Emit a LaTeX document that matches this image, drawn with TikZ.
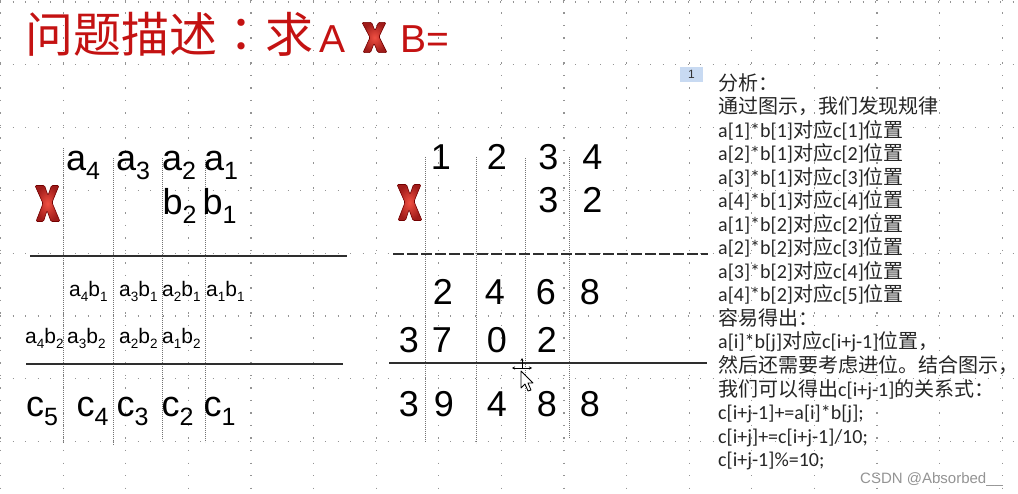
\documentclass[tikz,border=0pt]{standalone}
\usepackage{fontspec}
\setmainfont{Liberation Sans}
\newfontfamily\cjk{Noto Sans CJK SC}
\newfontfamily\cjktc{Noto Sans CJK TC}
\newfontfamily\carl{Carlito}
\usetikzlibrary{arrows.meta}
\newcommand\fs[1]{\fontsize{#1}{#1}\selectfont}
\newcommand\Bs[1]{\raisebox{-9pt}{\fs{25}#1}}
\newcommand\Ss[1]{\raisebox{-5pt}{\fs{13.5}#1}}
\newcommand\zh[1]{{\cjk #1}}
\definecolor{titlered}{RGB}{196,18,18}
\definecolor{boxblue}{RGB}{200,218,242}
\tikzset{
  griddot/.style={line width=1.3pt, black!42, dash pattern=on 1.3pt off 11.2pt},
  colline/.style={line width=1pt, black!55, dash pattern=on 1.2pt off 0.8pt},
  ruler/.style={line width=2pt, black!82},
  dashruler/.style={line width=2pt, black!82, dash pattern=on 11pt off 3pt},
  bigtxt/.style={font=\fs{36}, inner sep=0, anchor=base west},
  digit/.style={font=\fs{36}, inner sep=0, anchor=base},
  smalltxt/.style={font=\fs{21}, inner sep=0, anchor=base west},
  rt/.style={font=\fs{20}\carl, text=black!85, inner sep=0, anchor=base west},
  titlezh/.style={font=\fs{48}\cjk, text=titlered, inner sep=0, anchor=base west},
  titlelat/.style={font=\fs{39}, text=titlered, inner sep=0, anchor=base west},
  xicon/.pic={
    \path[draw=red!45!black, line width=0.6pt, inner color={rgb,255:red,240;green,80;blue,66},
      outer color={rgb,255:red,160;green,28;blue,26}, rounded corners=1.2pt]
      (-12.5,-18) -- (-3,-18) -- (0.5,-8) -- (4,-18) -- (11.5,-18) -- (4.5,-1)
      -- (12.5,18) -- (3.5,18) -- (-0.5,7) -- (-4,18) -- (-11.5,18) -- (-4.5,0) -- cycle;
  }
}
\begin{document}
\begin{tikzpicture}[x=1pt, y=-1pt]
\useasboundingbox (0,0) rectangle (1018,494);
\fill[white] (0,0) rectangle (1018,494);
% dotted grid
\foreach \k in {0,...,7} \draw[griddot] (0,{2+62.8*\k}) -- (1018,{2+62.8*\k});
\foreach \k in {0,...,16} \draw[griddot] ({0.6+62.6*\k},0) -- ({0.6+62.6*\k},494);

% title
\node[titlezh] (t1) at (25,53) {问题描述{\cjktc ：}求};
\node[titlelat] (tA) at (319,53) {A};
\pic[yscale=0.84] at (374.5,37.5) {xicon};
\node[titlelat] (tB) at (400,53) {B=};

% ---------- left diagram ----------
\foreach \x/\a/\b in {63/148/443, 113/158/445, 162/158/440, 205/160/442}
  \draw[colline] (\x,\a) -- (\x,\b);
\draw[ruler] (30,256) -- (347,256);
\draw[ruler] (26,364) -- (343,364);
\pic at (47.5,203.5) {xicon};
\node[bigtxt] (la4) at (66,171) {a\Bs4};
\node[bigtxt] (la3) at (116,171) {a\Bs3};
\node[bigtxt] (la2) at (162,171) {a\Bs2};
\node[bigtxt] (la1) at (204,171) {a\Bs1};
\node[bigtxt] (lb2) at (162.5,215) {b\Bs2};
\node[bigtxt] (lb1) at (202.5,215) {b\Bs1};
\node[smalltxt] (p41) at (69,297) {a\Ss4b\Ss1};
\node[smalltxt] (p31) at (119,297) {a\Ss3b\Ss1};
\node[smalltxt] (p21) at (162,297) {a\Ss2b\Ss1};
\node[smalltxt] (p11) at (206,297) {a\Ss1b\Ss1};
\node[smalltxt] (p42) at (25,344) {a\Ss4b\Ss2};
\node[smalltxt] (p32) at (67,344) {a\Ss3b\Ss2};
\node[smalltxt] (p22) at (119,344) {a\Ss2b\Ss2};
\node[smalltxt] (p12) at (162,344) {a\Ss1b\Ss2};
\node[bigtxt] (c5) at (26,417) {c\Bs5};
\node[bigtxt] (c4) at (76.5,417) {c\Bs4};
\node[bigtxt] (c3) at (116.5,417) {c\Bs3};
\node[bigtxt] (c2) at (161.5,417) {c\Bs2};
\node[bigtxt] (c1) at (203.5,417) {c\Bs1};

% ---------- middle diagram ----------
\foreach \x/\a/\b in {425/157/442, 476/157/443, 525/158/440, 569/157/438}
  \draw[colline] (\x,\a) -- (\x,\b);
\draw[dashruler] (393,254) -- (708,254);
\draw[ruler] (389,363) -- (707,363);
\pic at (409.5,202.5) {xicon};
\node[digit] (m11) at (441,170) {1};
\node[digit] (m12) at (497,170) {2};
\node[digit] (m13) at (548.5,170) {3};
\node[digit] (m14) at (592.5,170) {4};
\node[digit] (m23) at (548.5,213) {3};
\node[digit] (m24) at (592.5,213) {2};
\node[digit] (m31) at (443,305) {2};
\node[digit] (m32) at (495,305) {4};
\node[digit] (m33) at (546,305) {6};
\node[digit] (m34) at (590,305) {8};
\node[digit] (m40) at (409,353) {3};
\node[digit] (m41) at (442,353) {7};
\node[digit] (m42) at (497,353) {0};
\node[digit] (m43) at (547,353) {2};
\node[digit] (m50) at (409,417) {3};
\node[digit] (m51) at (444,417) {9};
\node[digit] (m52) at (497,417) {4};
\node[digit] (m53) at (547,417) {8};
\node[digit] (m54) at (590,417) {8};

% mouse cursor
\draw[line width=0.7pt, {Stealth[length=3pt,width=3pt]}-{Stealth[length=3pt,width=3pt]}] (512,368) -- (532,368);
\draw[line width=0.7pt, -{Stealth[length=3pt,width=3pt]}] (522,368) -- (522,358);
\draw[fill=white, line width=0.8pt, line join=round] (521,371) -- (521,388) -- (525,384) -- (528,391) -- (531,390) -- (528,383) -- (533,383) -- cycle;

% ---------- right text ----------
\node[fill=boxblue, minimum width=23pt, minimum height=15pt, inner sep=0, font=\fs{12}, text=black!80] (num) at (691.5,74.5) {1};
\node[rt] (r0)  at (718,90.5)  {\zh{分析：}};
\node[rt] (r1)  at (718,114)   {\zh{通过图示，我们发现规律}};
\node[rt] (r2)  at (718,137.5) {a[1]*b[1]\zh{对应}c[1]\zh{位置}};
\node[rt] (r3)  at (718,161)   {a[2]*b[1]\zh{对应}c[2]\zh{位置}};
\node[rt] (r4)  at (718,184.5) {a[3]*b[1]\zh{对应}c[3]\zh{位置}};
\node[rt] (r5)  at (718,208)   {a[4]*b[1]\zh{对应}c[4]\zh{位置}};
\node[rt] (r6)  at (718,231.5) {a[1]*b[2]\zh{对应}c[2]\zh{位置}};
\node[rt] (r7)  at (718,255)   {a[2]*b[2]\zh{对应}c[3]\zh{位置}};
\node[rt] (r8)  at (718,278.5) {a[3]*b[2]\zh{对应}c[4]\zh{位置}};
\node[rt] (r9)  at (718,302)   {a[4]*b[2]\zh{对应}c[5]\zh{位置}};
\node[rt] (r10) at (718,325.5) {\zh{容易得出：}};
\node[rt] (r11) at (718,349)   {a[i]*b[j]\zh{对应}c[i+j-1]\zh{位置，}};
\node[rt] (r12) at (718,372.5) {\zh{然后还需要考虑进位。结合图示，}};
\node[rt] (r13) at (718,396)   {\zh{我们可以得出}c[i+j-1]\zh{的关系式：}};
\node[rt] (r14) at (718,419.5) {c[i+j-1]+=a[i]*b[j];};
\node[rt] (r15) at (718,443)   {c[i+j]+=c[i+j-1]/10;};
\node[rt] (r16) at (718,466.5) {c[i+j-1]\%=10;};

% watermark
\node[font=\fs{15}, text=black!42, inner sep=0, anchor=base west] (wm) at (860,483) {CSDN @Absorbed\_\_};
\end{tikzpicture}
\end{document}
